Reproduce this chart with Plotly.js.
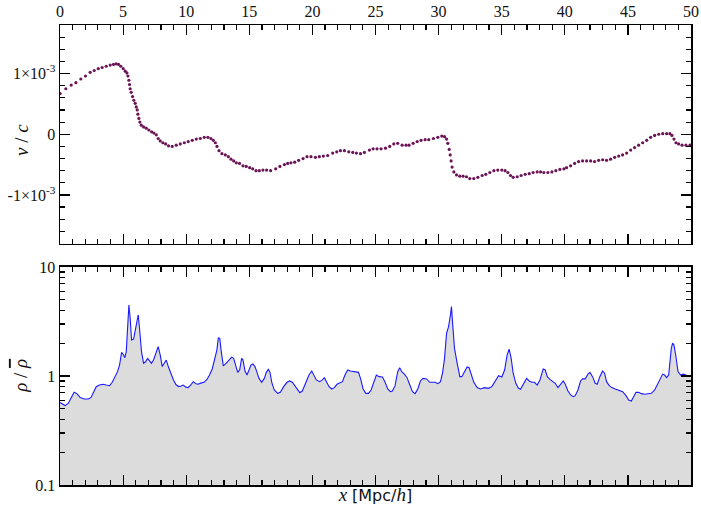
<!DOCTYPE html>
<html>
<head>
<meta charset="utf-8">
<script src="https://cdn.plot.ly/plotly-3.0.1.min.js"></script>
<style>html,body{margin:0;padding:0;background:#fff;}</style>
</head>
<body>
<div id="chart" style="width:701px;height:507px;"></div>
<script>
// ---- Top panel: particle positions x [Mpc/h] and velocities v/c (in units of 1e-3)
const particleX = [0.01,0.46,0.89,1.26,1.65,2.02,2.39,2.71,3.03,3.34,
3.66,3.98,4.24,4.45,4.64,4.82,5.01,5.17,5.30,5.38,
5.46,5.51,5.56,5.64,5.75,5.85,5.96,6.04,6.12,6.17,
6.25,6.33,6.44,6.62,6.83,7.04,7.26,7.44,7.63,7.78,
7.94,8.15,8.37,8.60,8.89,9.21,9.53,9.85,10.16,10.48,
10.80,11.12,11.43,11.72,11.96,12.15,12.31,12.44,12.60,12.83,
13.10,13.34,13.55,13.76,13.97,14.23,14.50,14.76,15.03,15.27,
15.53,15.79,16.08,16.37,16.69,17.09,17.43,17.78,18.04,18.30,
18.60,18.91,19.26,19.57,19.89,20.24,20.55,20.87,21.21,21.61,
21.93,22.22,22.54,22.88,23.20,23.49,23.81,24.12,24.52,24.81,
25.12,25.44,25.79,26.13,26.45,26.76,27.11,27.42,27.66,27.98,
28.30,28.61,28.93,29.22,29.59,29.94,30.25,30.47,30.63,30.73,
30.84,30.92,30.99,31.07,31.21,31.42,31.68,31.94,32.21,32.47,
32.79,33.11,33.45,33.74,34.06,34.38,34.69,35.01,35.27,35.49,
35.70,35.91,36.23,36.54,36.86,37.18,37.49,37.81,38.08,38.34,
38.66,38.98,39.29,39.61,39.93,40.14,40.46,40.78,41.09,41.41,
41.73,42.05,42.36,42.68,43.00,43.31,43.63,43.95,44.27,44.58,
44.90,45.22,45.53,45.85,46.17,46.49,46.80,47.12,47.44,47.76,
48.07,48.33,48.49,48.65,48.81,49.02,49.29,49.60,49.92];

const velocity1e3 = [0.67,0.75,0.81,0.85,0.91,0.96,1.02,1.05,1.08,1.10,
1.12,1.14,1.15,1.16,1.15,1.12,1.08,1.04,1.01,0.96,
0.89,0.82,0.75,0.69,0.62,0.56,0.51,0.45,0.40,0.33,
0.26,0.20,0.15,0.12,0.10,0.07,0.04,0.02,-0.01,-0.07,
-0.11,-0.14,-0.16,-0.19,-0.20,-0.18,-0.16,-0.14,-0.12,-0.10,
-0.08,-0.07,-0.05,-0.05,-0.07,-0.10,-0.14,-0.20,-0.27,-0.32,
-0.34,-0.37,-0.41,-0.44,-0.47,-0.48,-0.52,-0.53,-0.55,-0.57,
-0.60,-0.60,-0.59,-0.59,-0.60,-0.57,-0.53,-0.50,-0.48,-0.47,
-0.46,-0.43,-0.40,-0.37,-0.37,-0.38,-0.37,-0.36,-0.35,-0.31,
-0.29,-0.27,-0.27,-0.29,-0.30,-0.31,-0.32,-0.30,-0.26,-0.24,
-0.24,-0.24,-0.23,-0.20,-0.16,-0.15,-0.18,-0.18,-0.18,-0.15,
-0.12,-0.10,-0.09,-0.09,-0.07,-0.05,-0.03,-0.04,-0.08,-0.15,
-0.25,-0.34,-0.44,-0.54,-0.62,-0.67,-0.69,-0.69,-0.70,-0.73,
-0.73,-0.71,-0.68,-0.66,-0.63,-0.60,-0.59,-0.59,-0.60,-0.63,
-0.68,-0.71,-0.70,-0.68,-0.66,-0.65,-0.63,-0.62,-0.62,-0.63,
-0.63,-0.62,-0.60,-0.58,-0.57,-0.55,-0.52,-0.48,-0.45,-0.44,
-0.44,-0.44,-0.45,-0.43,-0.42,-0.43,-0.41,-0.38,-0.36,-0.34,
-0.31,-0.26,-0.22,-0.18,-0.14,-0.10,-0.05,-0.02,0.00,0.01,
0.01,0.01,-0.02,-0.08,-0.14,-0.16,-0.18,-0.18,-0.18];

// ---- Bottom panel: density contrast rho/rho_bar along x
const densityX = [0,0.2,0.4,0.65,0.91,1.12,1.34,1.6,1.92,2.23,
2.45,2.66,2.87,3.13,3.4,3.66,3.93,4.14,4.35,4.56,
4.72,4.88,5.04,5.14,5.25,5.35,5.46,5.56,5.67,5.83,
5.99,6.09,6.2,6.3,6.46,6.62,6.78,6.94,7.09,7.25,
7.41,7.62,7.78,7.94,8.1,8.26,8.42,8.58,8.78,8.99,
9.2,9.4,9.6,9.77,9.98,10.14,10.35,10.56,10.78,10.94,
11.15,11.41,11.63,11.85,12.06,12.27,12.43,12.55,12.66,12.78,
12.94,13.18,13.39,13.6,13.76,13.92,14.08,14.24,14.39,14.5,
14.66,14.82,14.98,15.13,15.29,15.45,15.61,15.77,15.98,16.19,
16.35,16.51,16.64,16.78,16.98,17.25,17.46,17.72,17.99,18.2,
18.41,18.68,19.0,19.2,19.47,19.73,19.95,20.1,20.31,20.58,
20.79,20.95,21.11,21.32,21.53,21.74,21.95,22.17,22.38,22.58,
22.8,23.01,23.22,23.48,23.65,23.81,24.02,24.23,24.44,24.65,
24.86,25.07,25.28,25.55,25.76,25.97,26.18,26.34,26.55,26.76,
26.92,27.08,27.29,27.5,27.72,27.93,28.14,28.35,28.56,28.77,
29.04,29.3,29.52,29.73,29.94,30.15,30.31,30.47,30.63,30.79,
30.94,31.02,31.1,31.26,31.47,31.68,31.84,32.05,32.26,32.42,
32.58,32.79,33.06,33.3,33.64,33.95,34.22,34.48,34.75,35.01,
35.23,35.43,35.59,35.75,35.91,36.12,36.33,36.49,36.7,36.97,
37.18,37.39,37.6,37.81,38.03,38.29,38.45,38.61,38.82,39.03,
39.24,39.46,39.67,39.88,40.04,40.25,40.46,40.67,40.83,41.04,
41.25,41.41,41.62,41.83,41.99,42.2,42.41,42.57,42.78,42.99,
43.15,43.31,43.52,43.73,44.0,44.26,44.58,44.85,45.06,45.27,
45.43,45.64,45.85,46.06,46.33,46.65,46.86,47.12,47.38,47.6,
47.75,47.91,48.07,48.23,48.33,48.44,48.54,48.65,48.81,48.97,
49.18,49.39,49.6,49.82,50];

const densityRho = [0.57,0.55,0.535,0.56,0.646,0.708,0.689,0.633,0.615,0.615,
0.633,0.718,0.798,0.826,0.839,0.826,0.815,0.875,0.986,1.096,
1.261,1.649,1.559,1.473,1.672,3.15,4.48,3.38,2.14,2.18,
2.74,3.26,3.63,2.74,1.67,1.31,1.35,1.45,1.37,1.31,
1.40,1.61,1.86,1.56,1.22,1.31,1.40,1.22,1.06,0.92,
0.83,0.80,0.81,0.826,0.79,0.78,0.826,0.887,0.85,0.84,
0.86,0.875,0.925,1.02,1.16,1.45,1.73,2.25,2.2,1.67,
1.24,1.31,1.39,1.49,1.45,1.22,1.08,1.14,1.45,1.40,
1.11,1.02,1.14,1.26,1.29,1.22,1.08,0.95,0.875,0.95,
1.08,1.15,1.08,0.875,0.744,0.693,0.708,0.798,0.875,0.90,
0.875,0.782,0.703,0.728,0.857,1.02,1.11,1.02,0.92,0.887,
0.92,0.965,0.90,0.798,0.76,0.782,0.839,0.857,0.887,1.02,
1.135,1.11,1.096,1.096,1.08,0.95,0.76,0.693,0.693,0.744,
0.887,1.02,0.986,0.98,0.875,0.76,0.718,0.728,0.815,1.096,
1.19,1.096,1.04,0.965,0.826,0.718,0.689,0.76,0.90,0.95,
0.94,0.875,0.875,0.875,0.85,0.887,1.06,1.45,2.46,2.84,
3.63,4.33,3.15,1.79,1.31,0.986,0.986,1.08,1.21,1.19,
1.04,0.875,0.782,0.76,0.782,0.77,0.798,0.90,1.007,0.98,
1.135,1.56,1.76,1.45,1.06,0.857,0.77,0.755,0.826,0.95,
0.90,0.875,0.875,0.826,0.92,1.16,1.135,0.986,0.93,0.90,
0.857,0.782,0.839,0.90,0.839,0.728,0.67,0.646,0.66,0.744,
0.90,0.94,0.94,1.04,1.08,0.986,0.857,0.839,0.986,1.11,
1.06,0.887,0.815,0.782,0.76,0.744,0.718,0.66,0.602,0.59,
0.646,0.708,0.708,0.689,0.679,0.684,0.693,0.744,0.857,0.986,
1.04,1.02,0.965,1.02,1.35,1.79,2.0,1.92,1.50,1.096,
1.02,1.04,1.02,1.0,0.99];

// ---- Tick labels
const xTickVals = [0,5,10,15,20,25,30,35,40,45,50];
const vTickVals = [-1, 0, 1];
const vTickText = ['-1×10<sup>-3</sup>', '0', '1×10<sup>-3</sup>'];
const rhoTickVals = [0.1, 1, 10];
const rhoTickText = ['0.1', '1', '10'];

const SERIF = 'Liberation Serif, DejaVu Serif, serif';

const traces = [
  {
    x: particleX, y: velocity1e3, xaxis: 'x', yaxis: 'y',
    type: 'scatter', mode: 'markers',
    marker: {size: 3.2, color: '#6b1557', line: {width: 0}},
    hoverinfo: 'skip'
  },
  {
    x: densityX, y: densityRho, xaxis: 'x2', yaxis: 'y2',
    type: 'scatter', mode: 'lines',
    line: {color: '#1a1aff', width: 1.1},
    fill: 'tozeroy', fillcolor: '#dcdcdc',
    hoverinfo: 'skip'
  }
];

function axisBase() {
  return {
    showline: true, linecolor: '#000', linewidth: 1.5,
    mirror: 'allticks', ticks: 'inside', ticklen: 10, tickwidth: 1.2, tickcolor: '#000',
    showgrid: false, zeroline: false,
    tickfont: {family: SERIF, size: 16, color: '#111'}
  };
}

const layout = {
  width: 701, height: 507,
  margin: {l: 60, r: 10, t: 25, b: 22},
  paper_bgcolor: '#fff', plot_bgcolor: '#fff',
  showlegend: false,
  font: {family: SERIF, size: 16, color: '#111'},
  xaxis: Object.assign(axisBase(), {
    domain: [0, 1], anchor: 'y', side: 'top', range: [0, 50],
    tickmode: 'array', tickvals: xTickVals,
    minor: {dtick: 1, tick0: 0, ticks: 'inside', ticklen: 5, tickwidth: 1.2, tickcolor: '#000'}
  }),
  yaxis: Object.assign(axisBase(), {
    domain: [0.525, 1], anchor: 'x', range: [-1.8, 1.8],
    tickmode: 'array', tickvals: vTickVals, ticktext: vTickText,
    minor: {dtick: 0.2, tick0: 0, ticks: 'inside', ticklen: 5, tickwidth: 1.2, tickcolor: '#000'}
  }),
  xaxis2: Object.assign(axisBase(), {
    domain: [0, 1], anchor: 'y2', range: [0, 50], matches: 'x',
    tickmode: 'array', tickvals: xTickVals, showticklabels: false,
    minor: {dtick: 1, tick0: 0, ticks: 'inside', ticklen: 5, tickwidth: 1.2, tickcolor: '#000'},
    title: {text: '<i>x</i> <span style="font-family:DejaVu Sans;font-size:16px">[Mpc/</span><i>h</i><span style="font-family:DejaVu Sans;font-size:16px">]</span>',
            font: {family: SERIF, size: 19, color: '#111'}, standoff: 2}
  }),
  yaxis2: Object.assign(axisBase(), {
    domain: [0, 0.474], anchor: 'x2', type: 'log', range: [-1, 1],
    tickmode: 'array', tickvals: rhoTickVals, ticktext: rhoTickText,
    minor: {tickmode: 'array', tickvals: [0.2,0.3,0.4,0.5,0.6,0.7,0.8,0.9,2,3,4,5,6,7,8,9],
            ticks: 'inside', ticklen: 5, tickwidth: 1.2, tickcolor: '#000'}
  }),
  annotations: [
    {text: '<i>v</i> / <i>c</i>', xref: 'paper', yref: 'paper', x: -0.062, y: 0.75,
     xanchor: 'center', yanchor: 'middle', textangle: -90, showarrow: false,
     font: {family: SERIF, size: 19, color: '#111'}},
    {text: '<i>ρ</i> / <i><span style="text-decoration:overline">ρ</span></i>', xref: 'paper', yref: 'paper', x: -0.062, y: 0.237,
     xanchor: 'center', yanchor: 'middle', textangle: -90, showarrow: false,
     font: {family: SERIF, size: 19, color: '#111'}}
  ]
};

Plotly.newPlot('chart', traces, layout, {staticPlot: true, displayModeBar: false});
</script>
</body>
</html>
